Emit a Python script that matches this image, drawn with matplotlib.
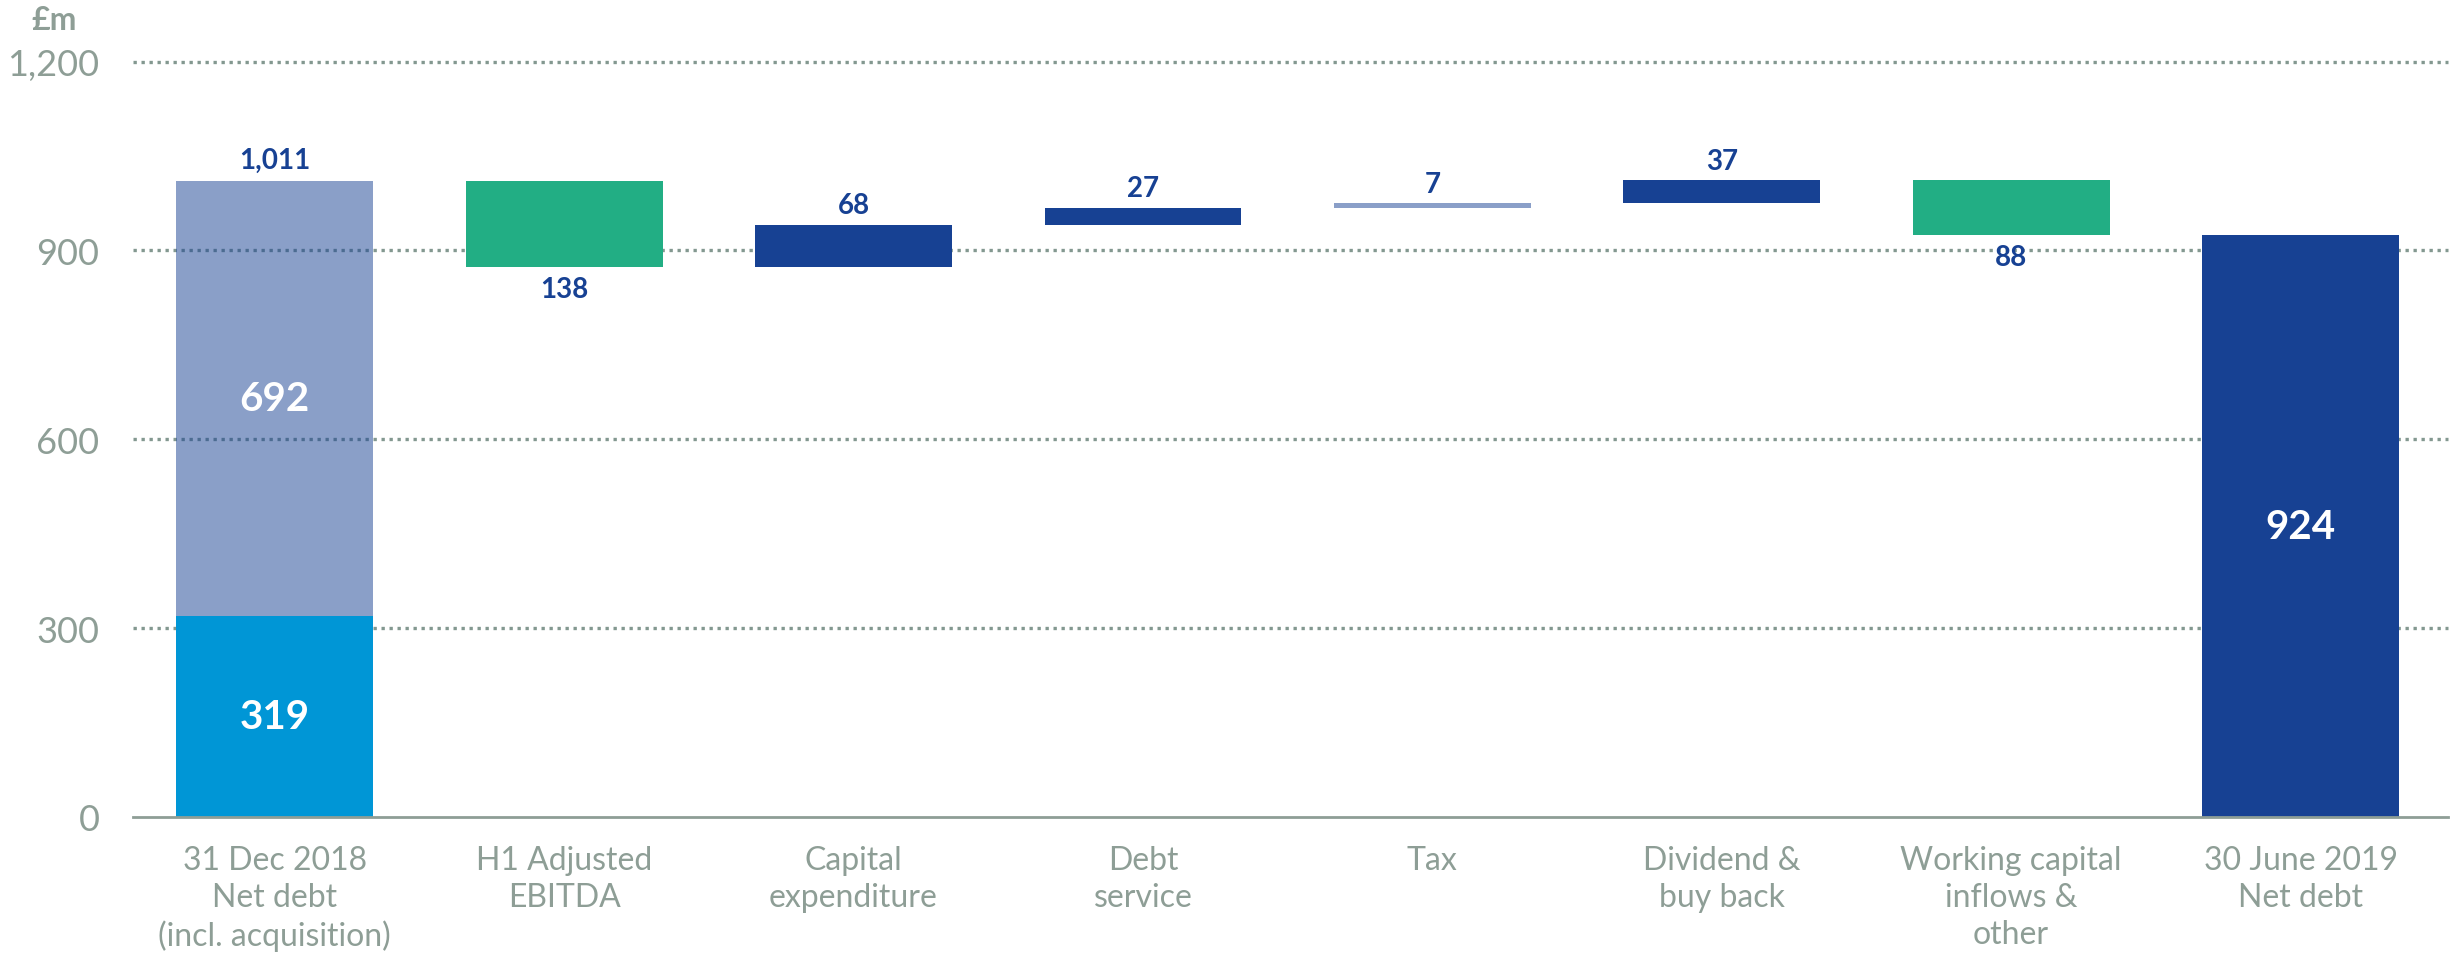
import matplotlib.pyplot as plt

# data (in £m)
categories = ['31 Dec 2018\nNet debt\n(incl. acquisition)', 'H1 Adjusted\nEBITDA',
              'Capital\nexpenditure', 'Debt\nservice', 'Tax', 'Dividend &\nbuy back',
              'Working capital\ninflows &\nother', '30 June 2019\nNet debt']
opening_parts = [319, 692]
movements = [-138, 68, 27, 7, 37, -88]
move_colors = ['#22ae84', '#174193', '#174193', '#8ca0c9', '#174193', '#22ae84']
closing = 924
yticks = [0, 300, 600, 900, 1200]

DARK = '#174193'
GREY = '#8e9e96'
plt.rcParams['font.family'] = ['Lato', 'DejaVu Sans']

fig = plt.figure(figsize=(24.53, 9.54), dpi=100)
ax = fig.add_axes([0.0542, 0.1426, 0.9438, 0.7918])
W = 0.68

# opening bar, stacked
ax.bar(0, opening_parts[0], W, color='#0096d6', zorder=2)
ax.bar(0, opening_parts[1], W, bottom=opening_parts[0], color=DARK, alpha=0.5, zorder=2)
total = sum(opening_parts)
ax.text(0, opening_parts[0] / 2, str(opening_parts[0]), ha='center', va='center',
        color='white', fontsize=29, fontweight='bold', zorder=3)
ax.text(0, opening_parts[0] + opening_parts[1] / 2, str(opening_parts[1]), ha='center',
        va='center', color='white', fontsize=29, fontweight='bold', zorder=3)
ax.text(0, total + 12, f'{total:,}', ha='center', va='bottom', color=DARK,
        fontsize=20, fontweight='bold')

# floating movements
level = total
for i, m in enumerate(movements):
    x = i + 1
    new = level + m
    bottom = min(level, new)
    alpha = 0.5 if move_colors[i] == '#8ca0c9' else 1
    col = DARK if alpha < 1 else move_colors[i]
    ax.bar(x, abs(m), W, bottom=bottom, color=col, alpha=alpha, zorder=2)
    if m > 0:
        ax.text(x, bottom + abs(m) + 10, str(abs(m)), ha='center', va='bottom',
                color=DARK, fontsize=20, fontweight='bold')
    else:
        ax.text(x, bottom - 14, str(abs(m)), ha='center', va='top',
                color=DARK, fontsize=20, fontweight='bold')
    level = new

# closing bar
ax.bar(7, closing, W, color=DARK, zorder=2)
ax.text(7, closing / 2, str(closing), ha='center', va='center', color='white',
        fontsize=29, fontweight='bold', zorder=3)

# axes styling
ax.set_xlim(-0.49, 7.51)
ax.set_ylim(0, 1200)
ax.set_yticks(yticks)
ax.set_yticklabels([f'{v:,}' for v in yticks])
ax.set_xticks(range(len(categories)))
ax.set_xticklabels(categories, linespacing=1.3)
ax.tick_params(axis='y', length=0, pad=24, labelsize=26, labelcolor=GREY)
ax.tick_params(axis='x', length=0, pad=20, labelsize=23, labelcolor=GREY)
for s in ['top', 'right', 'left']:
    ax.spines[s].set_visible(False)
ax.spines['bottom'].set_color(GREY)
ax.spines['bottom'].set_linewidth(2)
ax.spines['bottom'].set_zorder(4)
for v in yticks[1:]:
    ax.axhline(v, color='#839890', linestyle=(0, (1, 1.4)), linewidth=2.4, zorder=1,
               clip_on=False)

fig.text(0.0127, 0.979, '£m', color=GREY, fontsize=23, fontweight='bold',
         ha='left', va='center')

plt.savefig('out.png', dpi=100)
